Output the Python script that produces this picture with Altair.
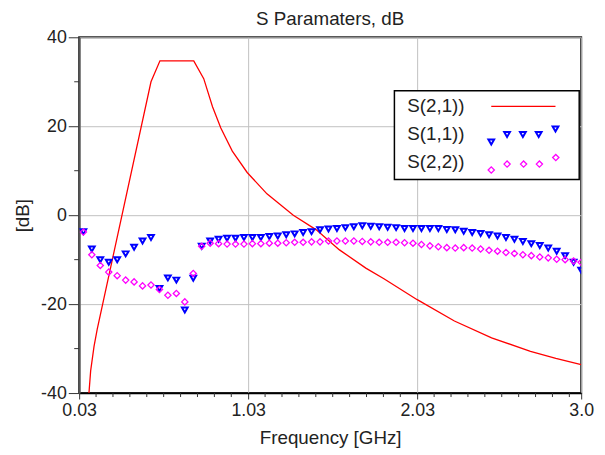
import altair as alt
import pandas as pd

# ---- data ----
freq = [0.055, 0.105, 0.155, 0.205, 0.255, 0.305, 0.355, 0.405, 0.455, 0.505,
        0.555, 0.605, 0.655, 0.705, 0.755, 0.805, 0.855, 0.905, 0.955, 1.005,
        1.055, 1.105, 1.155, 1.205, 1.255, 1.305, 1.355, 1.405, 1.455, 1.505,
        1.555, 1.605, 1.655, 1.705, 1.755, 1.805, 1.855, 1.905, 1.955, 2.005,
        2.055, 2.105, 2.155, 2.205, 2.255, 2.305, 2.355, 2.405, 2.455, 2.505,
        2.555, 2.605, 2.655, 2.705, 2.755, 2.805, 2.855, 2.905, 2.955, 3.0]
s11 = [-3.7, -7.6, -10.0, -10.6, -10.0, -8.7, -7.2, -5.8, -5.0, -16.5,
       -14.1, -14.6, -21.3, -14.2, -7.0, -5.8, -5.4, -5.2, -5.2, -5.0,
       -5.0, -5.0, -4.8, -4.7, -4.4, -4.2, -3.9, -3.7, -3.3, -3.1,
       -3.0, -2.8, -2.6, -2.4, -2.5, -2.6, -2.7, -2.8, -3.0, -3.0,
       -3.0, -3.0, -3.0, -3.2, -3.3, -3.6, -3.9, -4.1, -4.4, -4.7,
       -5.0, -5.4, -5.9, -6.4, -6.8, -7.4, -8.1, -9.1, -10.6, -12.4]
s22 = [-3.8, -8.9, -11.3, -12.8, -13.6, -14.6, -15.0, -15.9, -15.7, -16.7,
       -18.0, -17.6, -19.5, -13.1, -7.0, -6.3, -6.4, -6.5, -6.5, -6.5,
       -6.4, -6.4, -6.3, -6.3, -6.2, -6.1, -6.1, -6.0, -6.0, -5.8,
       -5.8, -5.8, -5.8, -5.9, -6.0, -6.1, -6.1, -6.1, -6.2, -6.3,
       -6.6, -6.9, -7.1, -7.3, -7.4, -7.3, -7.4, -7.6, -7.9, -8.1,
       -8.4, -8.6, -8.9, -9.1, -9.4, -9.6, -9.9, -10.0, -10.3, -10.6]
s21_freq = [0.088, 0.098, 0.118, 0.137, 0.455, 0.508, 0.708, 0.767, 0.819, 0.868,
            0.936, 1.024, 1.141, 1.297, 1.433, 1.57, 1.726, 1.833, 2.03, 2.25,
            2.47, 2.7, 2.85, 3.0]
s21_db = [-40, -35, -29.5, -25.6, 30, 34.7, 34.7, 30.7, 24.4, 19.6,
          14.4, 9.6, 4.8, 0, -3.3, -7.8, -11.9, -14.3, -19.0, -23.8,
          -27.6, -30.6, -32.2, -33.6]

x_major = [0.03, 1.03, 2.03, 3.0]
y_major = [-40, -20, 0, 20, 40]
x_minor = [0.13, 0.23, 0.33, 0.43, 0.53, 0.63, 0.73, 0.83, 0.93,
           1.13, 1.23, 1.33, 1.43, 1.53, 1.63, 1.73, 1.83, 1.93,
           2.13, 2.23, 2.33, 2.43, 2.53, 2.63, 2.73, 2.83, 2.93]
y_minor = [-30, -10, 10, 30]
legend_labels = ["S(2,1))", "S(1,1))", "S(2,2))"]
title_text = "S Paramaters, dB"

FONT = "Liberation Sans"
TXT = "#222222"
RED = "#ff0000"
BLUE = "#0000ff"
MAG = "#ff00ff"

xscale = alt.Scale(domain=[0.03, 3.0], nice=False, zero=False)
yscale = alt.Scale(domain=[-40, 40], nice=False, zero=False)

xaxis = alt.Axis(values=x_major,
                 labelExpr="datum.value == 3 ? '3.0' : format(datum.value, '.2f')",
                 title="Frequency [GHz]", grid=True, gridColor="#c0c0c0",
                 tickSize=6, labelFlush=False, labelOverlap=False, labelPadding=3,
                 titleX=254, titleY=51, titleBaseline="alphabetic",
                 domainColor="#000000", domainWidth=1.5, tickColor="#333333")
yaxis = alt.Axis(values=y_major, labelExpr="'' + datum.value",
                 title="[dB]", grid=True, gridColor="#c0c0c0",
                 tickSize=11, labelPadding=2, labelOverlap=False,
                 titleX=-57, titleY=180, titleAngle=270, titleAlign="center",
                 titleBaseline="middle",
                 domainColor="#555555", domainWidth=2, tickColor="#333333")

X = lambda f: alt.X(f, scale=xscale, axis=xaxis)
Y = lambda f: alt.Y(f, scale=yscale, axis=yaxis)

s21_df = pd.DataFrame({"f": s21_freq, "db": s21_db})
pts_df = pd.DataFrame({"f": freq, "s11": s11, "s22": s22})
xminor_df = pd.DataFrame({"f": x_minor})
yminor_df = pd.DataFrame({"db": y_minor})

TRI = dict(shape="triangle-down", filled=False, color=BLUE, size=34, strokeWidth=2, opacity=1)
DIA = dict(shape="diamond", filled=False, color=MAG, size=40, strokeWidth=1.3, opacity=1)

line = alt.Chart(s21_df).mark_line(color=RED, strokeWidth=1.3, clip=True).encode(
    x=X("f:Q"), y=Y("db:Q"))
blue = alt.Chart(pts_df).mark_point(clip=True, **TRI).encode(
    x=X("f:Q"), y=Y("s11:Q"))
mag = alt.Chart(pts_df).mark_point(clip=True, **DIA).encode(
    x=X("f:Q"), y=Y("s22:Q"))
xminor = alt.Chart(xminor_df).mark_rule(color="#333333", strokeWidth=1).encode(
    x=X("f:Q"), y=alt.value(360), y2=alt.value(364))
yminor = alt.Chart(yminor_df).mark_rule(color="#333333", strokeWidth=1).encode(
    y=Y("db:Q"), x=alt.value(-5), x2=alt.value(0))

one = alt.Data(values=[{}])
title_layer = alt.Chart(one).mark_text(align="center", baseline="alphabetic", font=FONT,
                                       fontSize=19, color=TXT).encode(
    x=alt.value(254), y=alt.value(-12), text=alt.value(title_text))
legend_layers = [
    alt.Chart(one).mark_rect(fill="white", stroke="#000000", strokeWidth=1.5).encode(
        x=alt.value(319), x2=alt.value(506), y=alt.value(54), y2=alt.value(144)),
]
for i, lab in enumerate(legend_labels):
    legend_layers.append(
        alt.Chart(one).mark_text(align="left", baseline="middle", font=FONT,
                                 fontSize=19, color=TXT).encode(
            x=alt.value(332), y=alt.value(70 + 28 * i), text=alt.value(lab)))
legend_layers.append(
    alt.Chart(one).mark_rule(color=RED, strokeWidth=1.3).encode(
        x=alt.value(417), x2=alt.value(482), y=alt.value(70)))
blue_leg = [(417, 106), (433, 98.3), (449, 98.3), (465, 98.3), (482, 92.7)]
mag_leg = [(417, 134.3), (433, 128.3), (449.7, 128.3), (465.7, 128.3), (482.3, 121.7)]
for (px, py) in blue_leg:
    legend_layers.append(
        alt.Chart(one).mark_point(**TRI).encode(x=alt.value(px), y=alt.value(py)))
for (px, py) in mag_leg:
    legend_layers.append(
        alt.Chart(one).mark_point(**DIA).encode(x=alt.value(px), y=alt.value(py)))

chart = alt.layer(line, blue, mag, xminor, yminor, title_layer, *legend_layers).properties(
    width=508, height=360,
    autosize=alt.AutoSizeParams(type="none"),
    padding={"left": 72, "top": 27, "right": 16, "bottom": 58},
    background="white",
).configure_view(stroke="#222222", strokeWidth=2).configure_axis(
    labelFont=FONT, labelFontSize=18, labelColor=TXT,
    titleFont=FONT, titleFontSize=19, titleColor=TXT, titleFontWeight="normal")

chart.save("out.html", embed_options={"renderer": "svg", "actions": False})
